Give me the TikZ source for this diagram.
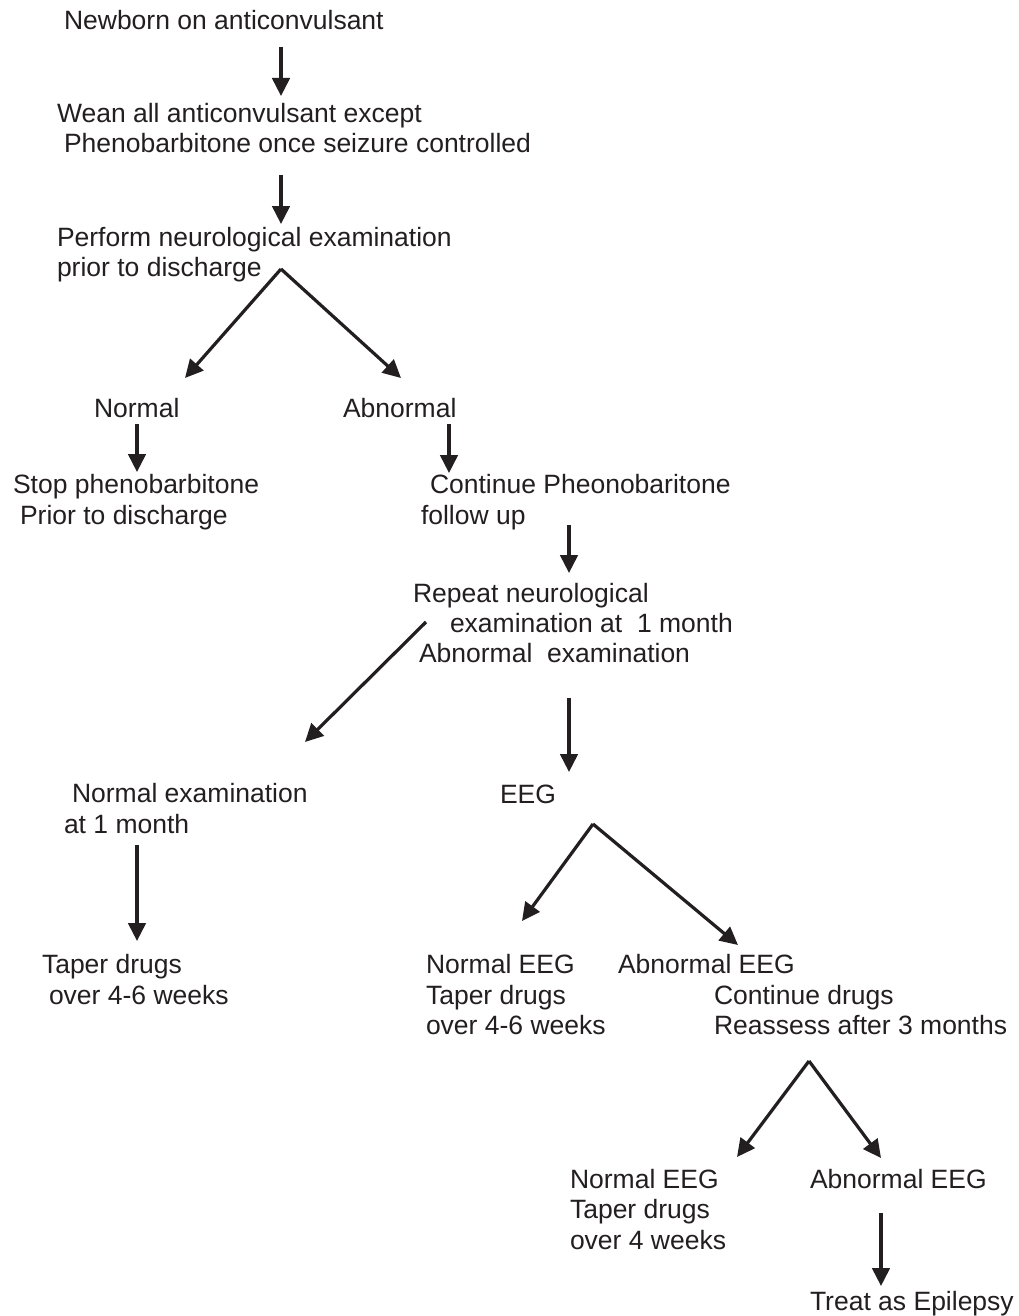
\documentclass[tikz,border=0pt]{standalone}
\usepackage{fontspec}
\setmainfont{Liberation Sans}
\usetikzlibrary{arrows.meta}
\definecolor{ink}{RGB}{35,31,32}
\begin{document}
\begin{tikzpicture}[x=1pt,y=-1pt,
  txt/.style={anchor=base west,inner sep=0pt,outer sep=0pt,text=ink,font=\fontsize{26.5}{31}\selectfont},
  arr/.style={draw=ink,line width=3.2pt,-{Triangle[length=18pt,width=17.5pt]}}]
\useasboundingbox[fill=white] (0,0) rectangle (1019,1316);

% ---- text lines ----
\node[txt] (t1)  at (64,29.5)  {Newborn on anticonvulsant};
\node[txt] (t2a) at (57,122.5) {Wean all anticonvulsant except};
\node[txt] (t2b) at (64,152.5) {Phenobarbitone once seizure controlled};
\node[txt] (t3a) at (57,246.5) {Perform neurological examination};
\node[txt] (t3b) at (57,276.5) {prior to discharge};
\node[txt] (n1)  at (94,417)   {Normal};
\node[txt] (ab1) at (343,417)  {Abnormal};
\node[txt] (s1a) at (13,493)   {Stop phenobarbitone};
\node[txt] (s1b) at (20,524)   {Prior to discharge};
\node[txt] (c1a) at (430,493)  {Continue Pheonobaritone};
\node[txt] (c1b) at (421,524)  {follow up};
\node[txt] (r1a) at (413,602)  {Repeat neurological};
\node[txt] (r1b) at (450,632)  {examination at\ \ 1 month};
\node[txt] (r1c) at (419,662)  {Abnormal\ \ examination};
\node[txt] (ne1) at (72,802)   {Normal examination};
\node[txt] (ne2) at (64,833)   {at 1 month};
\node[txt] (eeg) at (500,803)  {EEG};
\node[txt] (tp1) at (42,973)   {Taper drugs};
\node[txt] (tp2) at (49,1004)  {over 4-6 weeks};
\node[txt] (nea) at (426,973)  {Normal EEG};
\node[txt] (neb) at (426,1004) {Taper drugs};
\node[txt] (nec) at (426,1034) {over 4-6 weeks};
\node[txt] (aea) at (618,973)  {Abnormal EEG};
\node[txt] (aeb) at (714,1004) {Continue drugs};
\node[txt] (aec) at (714,1034) {Reassess after 3 months};
\node[txt] (fna) at (570,1188) {Normal EEG};
\node[txt] (fnb) at (570,1218) {Taper drugs};
\node[txt] (fnc) at (570,1249) {over 4 weeks};
\node[txt] (fab) at (810,1188) {Abnormal EEG};
\node[txt] (tre) at (810,1310) {Treat as Epilepsy};

% ---- connector end points ----
\coordinate (a1s) at (281,47);   \coordinate (a1e) at (281,96);
\coordinate (a2s) at (281,175);  \coordinate (a2e) at (281,224);
\coordinate (ap1) at (281,269);
\coordinate (ap1l) at (185,378); \coordinate (ap1r) at (401,378);
\coordinate (a3s) at (137,424);  \coordinate (a3e) at (137,472);
\coordinate (a4s) at (449,424);  \coordinate (a4e) at (449,473);
\coordinate (a5s) at (569,525);  \coordinate (a5e) at (569,573);
\coordinate (d1s) at (426,622);  \coordinate (d1e) at (305,742);
\coordinate (a6s) at (569,698);  \coordinate (a6e) at (569,772);
\coordinate (a7s) at (137,845);  \coordinate (a7e) at (137,941);
\coordinate (ap2) at (593,824);
\coordinate (ap2l) at (522,921); \coordinate (ap2r) at (738,945);
\coordinate (ap3) at (809,1061);
\coordinate (ap3l) at (737,1157); \coordinate (ap3r) at (881,1158);
\coordinate (a8s) at (881,1213); \coordinate (a8e) at (881,1286);

% ---- connectors ----
\draw[arr] (a1s) -- (a1e);
\draw[arr] (a2s) -- (a2e);
\draw[arr] (ap1) -- (ap1l);
\draw[arr] (ap1) -- (ap1r);
\draw[arr] (a3s) -- (a3e);
\draw[arr] (a4s) -- (a4e);
\draw[arr] (a5s) -- (a5e);
\draw[arr] (d1s) -- (d1e);
\draw[arr] (a6s) -- (a6e);
\draw[arr] (a7s) -- (a7e);
\draw[arr] (ap2) -- (ap2l);
\draw[arr] (ap2) -- (ap2r);
\draw[arr] (ap3) -- (ap3l);
\draw[arr] (ap3) -- (ap3r);
\draw[arr] (a8s) -- (a8e);
\end{tikzpicture}
\end{document}
